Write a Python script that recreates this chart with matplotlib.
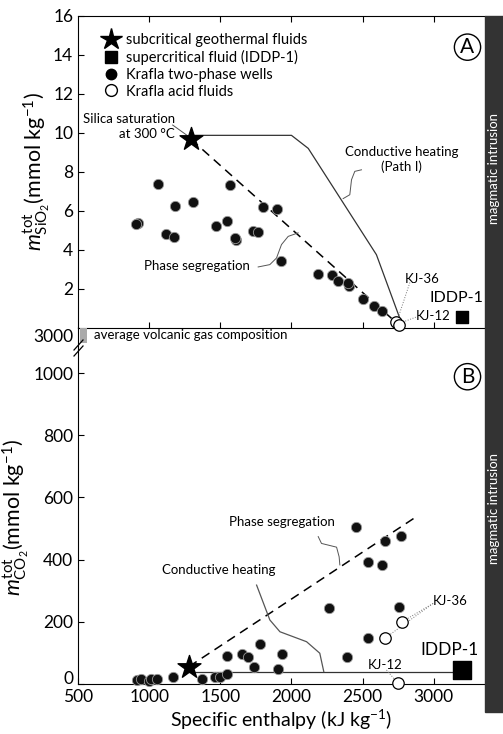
import numpy as np
import matplotlib
matplotlib.use('Agg')
import matplotlib.pyplot as plt
from matplotlib.lines import Line2D
from matplotlib.patches import Rectangle
from matplotlib.transforms import ScaledTranslation

plt.rcParams['font.family'] = ['Lato', 'DejaVu Sans']
plt.rcParams['mathtext.fontset'] = 'custom'
plt.rcParams['mathtext.rm'] = 'Lato'
plt.rcParams['mathtext.it'] = 'Lato:italic'
plt.rcParams['mathtext.bf'] = 'Lato:bold'

# ---- du lieu panel A (SiO2) ----
wells_h_A = [1060, 1570, 1183, 1308, 919, 905, 1120, 1172, 1467, 1546, 1612, 1600,
             1727, 1766, 1801, 1900, 1923, 2183, 2288, 2328, 2403, 2400, 2504, 2581, 2637]
wells_si = [7.37, 7.32, 6.26, 6.46, 5.37, 5.30, 4.82, 4.65, 5.19, 5.45, 4.51, 4.62,
            4.94, 4.91, 6.19, 6.09, 3.40, 2.75, 2.68, 2.37, 2.15, 2.30, 1.44, 1.08, 0.87]
acid_h_A = [2738, 2759]
acid_si = [0.27, 0.12]
star_A = (1294, 9.67)
iddp_A = (3195, 0.53)
cond_h_A = [1294, 2000, 2118, 2597, 2770]
cond_si = [9.87, 9.87, 9.20, 3.74, 0.30]
seg_h_A = [1294, 2726]
seg_si = [9.67, 0.32]

# ---- du lieu panel B (CO2) ----
wells_h_B = [912, 942, 999, 1013, 1057, 1167, 1371, 1464, 1495, 1546, 1546, 1652, 1692,
             1734, 1778, 2450, 2656, 2770, 2541, 2633, 2263, 2759, 2541, 2391, 1935, 1907]
wells_co2 = [13, 17, 11, 17, 15, 22, 17, 23, 23, 33, 90, 96, 87,
             54, 129, 506, 459, 476, 391, 383, 244, 249, 147, 86, 95, 48]
acid_h_B = [2777, 2656, 2749]
acid_co2 = [200, 147, 4]
star_B = (1280, 56)
iddp_B = (3195, 45)
flat_h_B = [1280, 3195]
flat_co2 = [40, 40]
seg_h_B = [1280, 2871]
seg_co2 = [56, 536]
cond_h_B = [1755, 1848, 1919, 2106, 2199, 2227]
cond_co2 = [318, 206, 168, 136, 99, 40]
volcanic_gas = 3000

W, H = 503, 734
fig = plt.figure(figsize=(W / 100, H / 100), dpi=100)

def box(x0, y0, x1, y1):
    return [x0 / W, 1 - y1 / H, (x1 - x0) / W, (y1 - y0) / H]

ax1 = fig.add_axes(box(78, 16, 485, 327.5))
axg = fig.add_axes(box(78, 327.5, 485, 350))
ax2 = fig.add_axes(box(78, 350, 485, 684))

xlim = (500, 3360)
tick_fs = 12.5
well_kw = dict(s=55, c='#111111', edgecolors='#999999', linewidths=0.6, zorder=3, clip_on=False)
acid_kw = dict(s=68, c='white', edgecolors='black', linewidths=0.9, zorder=4, clip_on=False)
lead_kw = dict(color='#777777', lw=0.7, ls=':', zorder=2)

# ---------- panel A ----------
ax1.plot(cond_h_A, cond_si, color='#333333', lw=0.9, zorder=2)
ax1.plot(seg_h_A, seg_si, color='black', lw=1.1, ls=(0, (6, 4)), zorder=2)
ax1.scatter(wells_h_A, wells_si, **well_kw)
ax1.scatter(acid_h_A, acid_si, **acid_kw)
ax1.scatter(*star_A, marker='*', s=300, c='black', zorder=5)
ax1.scatter(*iddp_A, marker='s', s=70, c='black', zorder=5)

ax1.set_xlim(xlim)
ax1.set_ylim(0, 16)
ax1.set_yticks(range(2, 17, 2))
ax1.set_xticks(range(1000, 3001, 500))
ax1.tick_params(direction='in', length=4, labelsize=tick_fs, top=True, labelbottom=False)
ax1.spines['right'].set_visible(False)
ax1.set_ylabel(r'$m^{\mathrm{tot}}_{\mathrm{SiO_2}}$(mmol kg$^{-1}$)', fontsize=15.5, labelpad=1)

handles = [
    Line2D([], [], marker='*', ls='', color='black', markersize=16),
    Line2D([], [], marker='s', ls='', color='black', markersize=8.5),
    Line2D([], [], marker='o', ls='', color='black', markersize=7.5),
    Line2D([], [], marker='o', ls='', mfc='white', mec='black', markersize=8.5),
]
labels = ['subcritical geothermal fluids', 'supercritical fluid (IDDP-1)',
          'Krafla two-phase wells', 'Krafla acid fluids']
ax1.legend(handles, labels, loc='upper left', bbox_to_anchor=(0.045, 0.965), frameon=False,
           fontsize=10.5, labelspacing=0.2, handletextpad=0.45, handlelength=1.2, borderaxespad=0)

ax1.text(1181, 10.3, 'Silica saturation\nat 300 °C', ha='right', va='center',
         multialignment='right', fontsize=9.5, linespacing=1.3)
ax1.plot([1165, 1270], [10.4, 9.85], color='#555555', lw=0.7)
ax1.text(2775, 8.62, 'Conductive heating\n(Path I)', ha='center', va='center',
         fontsize=9.5, linespacing=1.2)
ax1.plot([2492, 2445, 2422, 2410, 2363], [8.10, 8.02, 7.59, 6.82, 6.62], color='#555555', lw=0.7)
ax1.text(1334, 3.18, 'Phase segregation', ha='center', va='center', fontsize=9.5)
ax1.plot([1766, 1848, 1895, 1930, 1977, 2047], [3.11, 3.23, 3.57, 4.26, 4.68, 4.86],
         color='#555555', lw=0.7)
ax1.text(2921, 2.5, 'KJ-36', ha='center', va='center', fontsize=9.5)
ax1.plot([2832, 2741], [2.31, 0.31], **lead_kw)
ax1.text(2993, 0.58, 'KJ-12', ha='center', va='center', fontsize=9.5)
ax1.plot([2874, 2775], [0.53, 0.26], **lead_kw)
ax1.text(3162, 1.49, 'IDDP-1', ha='center', va='center', fontsize=11.5)
ax1.text(0.957, 0.9, 'A', transform=ax1.transAxes, ha='center', va='center', fontsize=15,
         bbox=dict(boxstyle='circle,pad=0.15', fc='white', ec='black', lw=1))

# ---------- khoang gian doan ----------
axg.bar([540], [100], bottom=[volcanic_gas - 50], width=45, color='#aaaaaa')
axg.set_xlim(xlim)
axg.set_ylim(2900, 3050)
axg.set_yticks([volcanic_gas])
axg.set_xticks([])
axg.tick_params(axis='y', length=0, labelsize=tick_fs)
for s in ['top', 'right', 'bottom']:
    axg.spines[s].set_visible(False)
axg.text(610, volcanic_gas, 'average volcanic gas composition', ha='left', va='center', fontsize=9.5)
axg.patch.set_alpha(0)

# ---------- panel B ----------
ax2.plot(flat_h_B, flat_co2, color='#333333', lw=0.9, zorder=2)
ax2.plot(seg_h_B, seg_co2, color='black', lw=1.1, ls=(0, (6, 4)), zorder=2)
ax2.plot(cond_h_B, cond_co2, color='#555555', lw=0.9, zorder=2)
ax2.scatter(wells_h_B, wells_co2, **well_kw)
ax2.scatter(acid_h_B, acid_co2, **acid_kw)
ax2.scatter(*star_B, marker='*', s=300, c='black', zorder=5)
ax2.scatter(*iddp_B, marker='s', s=150, c='black', zorder=5, clip_on=False)

ax2.set_xlim(xlim)
ax2.set_ylim(0, 1074)
ax2.set_yticks(range(0, 1001, 200))
ax2.set_xticks(range(500, 3001, 500))
ax2.tick_params(direction='in', length=4, labelsize=tick_fs)
ax2.spines['right'].set_visible(False)
ax2.spines['top'].set_visible(False)
ax2.set_ylabel(r'$m^{\mathrm{tot}}_{\mathrm{CO_2}}$(mmol kg$^{-1}$)', fontsize=15.5, labelpad=1)
ax2.set_xlabel('Specific enthalpy (kJ kg$^{-1}$)', fontsize=14, labelpad=2)
# nhan "0" dich len mot chut nhu ban goc
lab0 = ax2.yaxis.get_major_ticks()[0].label1
lab0.set_transform(lab0.get_transform() + ScaledTranslation(0, 0.07, fig.dpi_scale_trans))

ax2.text(1933, 522, 'Phase segregation', ha='center', va='center', fontsize=9.5)
ax2.plot([2188, 2211, 2317, 2335, 2340], [474, 452, 440, 409, 383], color='#555555', lw=0.7)
ax2.text(1490, 367, 'Conductive heating', ha='center', va='center', fontsize=9.5)
ax2.text(3112, 268, 'KJ-36', ha='center', va='center', fontsize=9.5)
ax2.plot([2995, 2777], [259, 200], **lead_kw)
ax2.plot([2995, 2656], [259, 147], **lead_kw)
ax2.text(2656, 61, 'KJ-12', ha='center', va='center', fontsize=9.5)
ax2.plot([2668, 2747], [45, 3], **lead_kw)
ax2.text(3112, 109, 'IDDP-1', ha='center', va='center', fontsize=12.5)
ax2.text(0.957, 0.92, 'B', transform=ax2.transAxes, ha='center', va='center', fontsize=15,
         bbox=dict(boxstyle='circle,pad=0.15', fc='white', ec='black', lw=1))

# dau gian doan truc y
for dy in (0, 6):
    fig.add_artist(Line2D([74 / W, 83 / W], [1 - (356 - dy) / H, 1 - (346 - dy) / H],
                          color='black', lw=0.9))

# thanh toi ben phai
fig.patches.append(Rectangle((485 / W, 1 - 712 / H), 18 / W, (712 - 16) / H,
                             transform=fig.transFigure, color='#333333', zorder=0))
for yc in (169, 508):
    fig.text(494 / W, 1 - yc / H, 'magmatic intrusion', rotation=90, color='white',
             ha='center', va='center', fontsize=9.5)

plt.savefig('out.png', dpi=100)
